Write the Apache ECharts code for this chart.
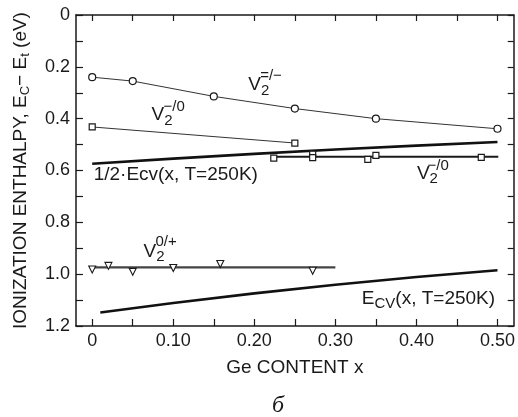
<!DOCTYPE html>
<html>
<head>
<meta charset="utf-8">
<script src="https://cdn.jsdelivr.net/npm/echarts@6/dist/echarts.min.js"></script>
<style>
html,body{margin:0;padding:0;background:#fff;}
#c{width:518px;height:417px;}
</style>
</head>
<body>
<div id="c"></div>
<script>
// ---- axis ticks / labels ----
const xTickValues = [0, 0.05, 0.10, 0.15, 0.20, 0.25, 0.30, 0.35, 0.40, 0.45, 0.50];
const xLabelValues = [0, 0.10, 0.20, 0.30, 0.40, 0.50];
const yTickValues = [0, 0.1, 0.2, 0.3, 0.4, 0.5, 0.6, 0.7, 0.8, 0.9, 1.0, 1.1, 1.2];
const yLabelValues = [0, 0.2, 0.4, 0.6, 0.8, 1.0, 1.2];

// ---- V2(=/-) open circles ----
const vDoubleMinusX = [0, 0.05, 0.15, 0.25, 0.35, 0.50];
const vDoubleMinusY = [0.240, 0.255, 0.314, 0.361, 0.400, 0.439];

// ---- V2(-/0) upper, squares ----
const vMinusZeroUpX = [0, 0.25];
const vMinusZeroUpY = [0.432, 0.494];

// ---- 1/2 Ecv(x, T=250K) ----
const halfEcvX = [0, 0.1, 0.2, 0.3, 0.4, 0.5];
const halfEcvY = [0.574, 0.554, 0.536, 0.519, 0.504, 0.490];

// ---- V2(-/0) lower, squares + flat line ----
const vMinusZeroLowX = [0.224, 0.272, 0.272, 0.340, 0.350, 0.480];
const vMinusZeroLowY = [0.552, 0.537, 0.550, 0.557, 0.542, 0.549];
const vMinusZeroFitX = [0.221, 0.501];
const vMinusZeroFitY = [0.547, 0.547];

// ---- V2(0/+) triangles + flat line ----
const vZeroPlusX = [0, 0.020, 0.05, 0.10, 0.158, 0.272];
const vZeroPlusY = [0.982, 0.968, 0.991, 0.976, 0.961, 0.987];
const vZeroPlusFitX = [-0.002, 0.300];
const vZeroPlusFitY = [0.974, 0.974];

// ---- Ecv(x, T=250K) ----
const ecvX = [0.01, 0.1, 0.2, 0.3, 0.4, 0.5];
const ecvY = [1.148, 1.111, 1.074, 1.041, 1.011, 0.985];

// ---- annotation texts (data coordinates) ----
const noteX = [0.192, 0.2066, 0.0726, 0.0873, 0.0012, 0.400, 0.413, 0.0627, 0.0775, 0.332];
const noteY = [0.270, 0.234, 0.386, 0.355, 0.618, 0.612, 0.581, 0.913, 0.876, 1.095];
const noteText = [
  '{v|V}{s|2}', '{p|=/−}',
  '{v|V}{s|2}', '{p|−/0}',
  '{v|1/2·Ecv(x, T=250K)}',
  '{v|V}{s|2}', '{p|−/0}',
  '{v|V}{s|2}', '{p|0/+}',
  '{v|E}{s|CV}{v|(x, T=250K)}'
];

const FONT = '"Liberation Sans", Arial, Helvetica, sans-serif';
const INK = '#1a1a1a';
const pairs = (xs, ys) => xs.map((x, i) => [x, ys[i]]);

const chart = echarts.init(document.getElementById('c'), null, {renderer: 'canvas'});

const axisLineStyle = {show: true, onZero: false, lineStyle: {color: INK, width: 1.5}};
const tickStyle = {color: INK, width: 1.2};

const richStyles = {
  v: {fontSize: 19, lineHeight: 19, fontFamily: FONT, color: INK},
  s: {fontSize: 15, lineHeight: 15, fontFamily: FONT, color: INK, padding: [11, 0, 0, 0]},
  p: {fontSize: 15, lineHeight: 15, fontFamily: FONT, color: INK}
};

const option = {
  animation: false,
  backgroundColor: '#fff',
  grid: {left: 76, right: 3, top: 15, bottom: 91, containLabel: false},
  xAxis: [
    {
      type: 'value', min: -0.02, max: 0.52, position: 'bottom',
      axisLine: axisLineStyle,
      axisTick: {show: true, inside: true, length: 7, customValues: xTickValues, lineStyle: tickStyle},
      axisLabel: {
        customValues: xLabelValues, margin: 6, fontSize: 18, color: INK, fontFamily: FONT,
        formatter: v => (Math.abs(v) < 1e-9 ? '0' : v.toFixed(2))
      },
      splitLine: {show: false},
      name: 'Ge CONTENT x', nameLocation: 'middle', nameGap: 32,
      nameTextStyle: {fontSize: 19, color: INK, fontFamily: FONT}
    },
    {
      type: 'value', min: -0.02, max: 0.52, position: 'top',
      axisLine: axisLineStyle,
      axisTick: {show: true, inside: true, length: 6, customValues: xTickValues, lineStyle: tickStyle},
      axisLabel: {show: false},
      splitLine: {show: false}
    }
  ],
  yAxis: [
    {
      type: 'value', inverse: true, min: 0, max: 1.2, interval: 0.1, position: 'left',
      axisLine: axisLineStyle,
      axisTick: {show: true, inside: true, length: 7, customValues: yTickValues, lineStyle: tickStyle},
      axisLabel: {
        customValues: yLabelValues, margin: 6, fontSize: 18, color: INK, fontFamily: FONT,
        formatter: v => (Math.abs(v) < 1e-9 ? '0' : v.toFixed(1))
      },
      splitLine: {show: false},
      name: 'IONIZATION ENTHALPY, E{s|C}− E{s|t} (eV)',
      nameLocation: 'middle', nameRotate: 90, nameGap: 46,
      nameTextStyle: {
        fontSize: 19, color: INK, fontFamily: FONT,
        rich: {s: {fontSize: 13, lineHeight: 13, fontFamily: FONT, color: INK, padding: [9, 0, 0, 0]}}
      }
    },
    {
      type: 'value', inverse: true, min: 0, max: 1.2, interval: 0.1, position: 'right',
      axisLine: axisLineStyle,
      axisTick: {show: true, inside: true, length: 6, customValues: yTickValues, lineStyle: tickStyle},
      axisLabel: {show: false},
      splitLine: {show: false}
    }
  ],
  series: [
    {
      name: 'V2=/-', type: 'line', data: pairs(vDoubleMinusX, vDoubleMinusY),
      symbol: 'circle', symbolSize: 7, showAllSymbol: true, z: 4,
      lineStyle: {color: '#333', width: 1},
      itemStyle: {color: '#fff', borderColor: INK, borderWidth: 1.2}
    },
    {
      name: 'V2-/0 up', type: 'line', data: pairs(vMinusZeroUpX, vMinusZeroUpY),
      symbol: 'rect', symbolSize: 6, z: 4,
      lineStyle: {color: '#333', width: 1},
      itemStyle: {color: '#fff', borderColor: INK, borderWidth: 1.2}
    },
    {
      name: 'half Ecv', type: 'line', data: pairs(halfEcvX, halfEcvY),
      symbol: 'none', z: 2,
      lineStyle: {color: '#111', width: 2.6}
    },
    {
      name: 'V2-/0 fit', type: 'line', data: pairs(vMinusZeroFitX, vMinusZeroFitY),
      symbol: 'none', z: 2,
      lineStyle: {color: INK, width: 2}
    },
    {
      name: 'V2-/0 low', type: 'scatter', data: pairs(vMinusZeroLowX, vMinusZeroLowY),
      symbol: 'rect', symbolSize: 6, z: 4,
      itemStyle: {color: '#fff', borderColor: INK, borderWidth: 1.2, opacity: 1}
    },
    {
      name: 'V2 0/+ fit', type: 'line', data: pairs(vZeroPlusFitX, vZeroPlusFitY),
      symbol: 'none', z: 2,
      lineStyle: {color: '#444', width: 2.2}
    },
    {
      name: 'V2 0/+', type: 'scatter', data: pairs(vZeroPlusX, vZeroPlusY),
      symbol: 'triangle', symbolRotate: 180, symbolSize: 7, z: 4,
      itemStyle: {color: '#fff', borderColor: INK, borderWidth: 1.1, opacity: 1}
    },
    {
      name: 'Ecv', type: 'line', data: pairs(ecvX, ecvY),
      symbol: 'none', z: 2,
      lineStyle: {color: '#111', width: 2.6}
    },
    {
      name: 'notes', type: 'scatter', silent: true, z: 5,
      symbolSize: 1, itemStyle: {color: 'rgba(0,0,0,0)', opacity: 1},
      data: noteX.map((x, i) => ({value: [x, noteY[i]], label: {formatter: noteText[i]}})),
      label: {
        show: true, position: 'right', distance: 0, align: 'left', verticalAlign: 'middle',
        color: INK, fontFamily: FONT, fontSize: 19, rich: richStyles
      }
    }
  ],
  graphic: [
    {
      type: 'text', left: 272, top: 394,
      style: {text: 'б', fontSize: 24, fontStyle: 'italic', fontFamily: '"Liberation Serif", "Times New Roman", serif', fill: INK}
    }
  ]
};

chart.setOption(option);
</script>
</body>
</html>
